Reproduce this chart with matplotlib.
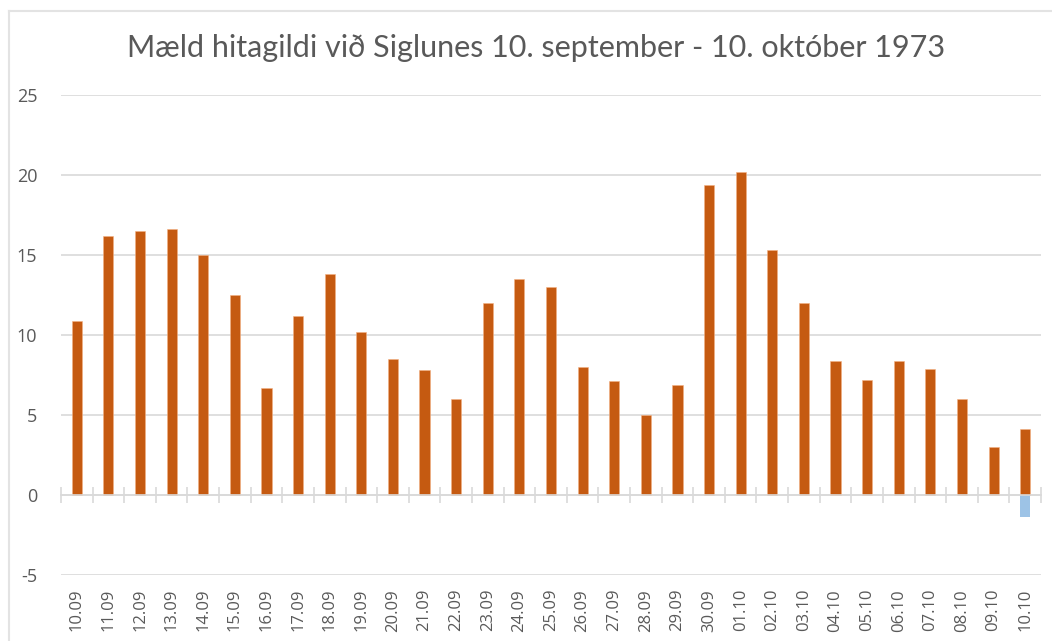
import matplotlib.pyplot as plt
from matplotlib.lines import Line2D
import numpy as np

# dagsetningar og mældur hiti
dates = ['10.09', '11.09', '12.09', '13.09', '14.09', '15.09', '16.09', '17.09',
         '18.09', '19.09', '20.09', '21.09', '22.09', '23.09', '24.09', '25.09',
         '26.09', '27.09', '28.09', '29.09', '30.09', '01.10', '02.10', '03.10',
         '04.10', '05.10', '06.10', '07.10', '08.10', '09.10', '10.10']
temp_high = [10.9, 16.2, 16.5, 16.6, 15.0, 12.5, 6.7, 11.2, 13.8, 10.2, 8.5, 7.8,
             6.0, 12.0, 13.5, 13.0, 8.0, 7.1, 5.0, 6.9, 19.4, 20.2, 15.3, 12.0,
             8.4, 7.2, 8.4, 7.9, 6.0, 3.0, 4.1]
temp_low = [0] * 30 + [-1.4]
y_ticks = [-5, 0, 5, 10, 15, 20, 25]

plt.rcParams['font.family'] = ['Lato', 'DejaVu Sans']
gray = '#595959'

fig = plt.figure(figsize=(10.52, 6.41), dpi=100)
ax = fig.add_axes([61 / 1052, 1 - 575 / 641, 980 / 1052, 480 / 641])

x = np.arange(len(dates))
ax.bar(x, temp_high, width=0.32, color='#c55a11', edgecolor='#f4b183', linewidth=0.4, zorder=3)
ax.bar(x, temp_low, width=0.32, color='#9dc3e6', zorder=3)

ax.set_xlim(-0.5, len(dates) - 0.5)
ax.set_ylim(-5, 25)
ax.set_yticks(y_ticks, labels=[str(v) for v in y_ticks], fontsize=13, color=gray,
              family=['Open Sans', 'DejaVu Sans'])
ax.yaxis.grid(True, color='#d9d9d9', linewidth=1.2, zorder=0)
ax.tick_params(axis='y', length=0, pad=17)

for s in ['top', 'right', 'left']:
    ax.spines[s].set_visible(False)
# x-ás við núll með strikum milli flokka
ax.spines['bottom'].set_position(('data', 0))
ax.spines['bottom'].set_color('#d9d9d9')
ax.spines['bottom'].set_linewidth(1.2)
ax.spines['bottom'].set_zorder(4)
ax.set_xticks(np.arange(-0.5, len(dates), 1))
ax.set_xticklabels([])
ax.tick_params(axis='x', direction='inout', length=12, width=1.2, color='#d9d9d9')

# flokkaheiti neðst
sec = ax.secondary_xaxis('bottom')
sec.set_xticks(x)
sec.set_xticklabels(dates, rotation=90, fontsize=12, color=gray,
                    family=['Open Sans', 'DejaVu Sans'])
sec.tick_params(length=0, pad=10)
sec.spines['bottom'].set_visible(False)

fig.text(536 / 1052, 1 - 48 / 641, 'Mæld hitagildi við Siglunes 10. september - 10. október 1973',
         ha='center', va='center', fontsize=22, color=gray)

# rammi um myndina
fig.add_artist(Line2D([9 / 1052, 9 / 1052], [0, 1 - 11 / 641], transform=fig.transFigure,
                      color='#e3e3e3', linewidth=1.5))
fig.add_artist(Line2D([9 / 1052, 1], [1 - 11 / 641, 1 - 11 / 641], transform=fig.transFigure,
                      color='#e3e3e3', linewidth=1.5))

fig.savefig('out.png', dpi=100)
